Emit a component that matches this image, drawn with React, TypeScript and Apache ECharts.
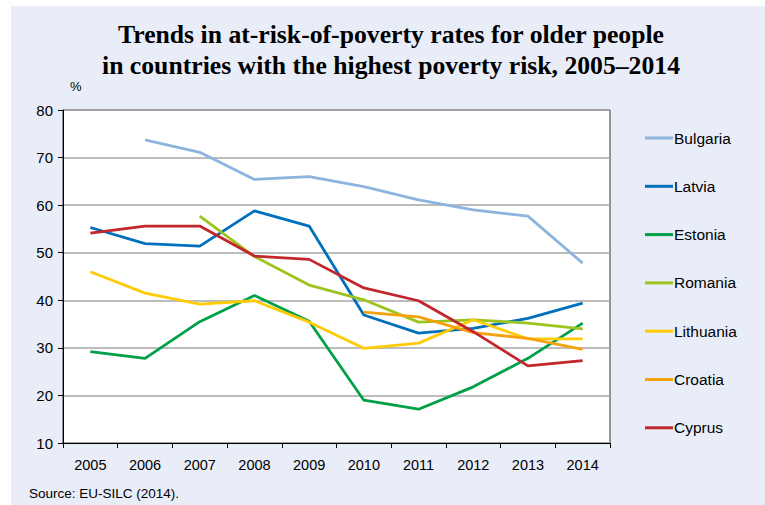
import React, { useEffect, useRef } from "react";
import * as echarts from "echarts";

const years = ["2005", "2006", "2007", "2008", "2009", "2010", "2011", "2012", "2013", "2014"];
const bulgaria = [null, 73.7, 71.1, 65.4, 66.0, 63.9, 61.1, 59.0, 57.7, 47.8];
const latvia = [55.3, 51.9, 51.4, 58.8, 55.6, 36.9, 33.1, 34.1, 36.2, 39.4];
const estonia = [29.2, 27.8, 35.5, 41.0, 35.6, 19.0, 17.1, 21.8, 27.8, 35.2];
const romania = [null, null, 57.7, 49.2, 43.2, 40.1, 35.4, 35.9, 35.2, 34.0];
const lithuania = [46.0, 41.5, 39.2, 39.9, 35.4, 29.9, 31.0, 35.9, 31.9, 31.9];
const croatia = [null, null, null, null, null, 37.5, 36.5, 33.2, 32.0, 29.7];
const cyprus = [54.1, 55.6, 55.6, 49.3, 48.6, 42.6, 39.9, 33.4, 26.2, 27.3];

const seriesDefs = [
  { name: "Bulgaria", data: bulgaria, color: "#8cb4df" },
  { name: "Latvia", data: latvia, color: "#0070bd" },
  { name: "Estonia", data: estonia, color: "#00a048" },
  { name: "Romania", data: romania, color: "#9cc41c" },
  { name: "Lithuania", data: lithuania, color: "#ffcb05" },
  { name: "Croatia", data: croatia, color: "#f6a20f" },
  { name: "Cyprus", data: cyprus, color: "#c1272d" },
];

export default function App() {
  const ref = useRef<HTMLDivElement>(null);
  useEffect(() => {
    document.body.style.margin = "0";
    const chart = echarts.init(ref.current!, null, { renderer: "svg" });
    chart.setOption({
      animation: false,
      backgroundColor: "#ffffff",
      graphic: [
        {
          type: "rect",
          z: -10,
          silent: true,
          shape: { x: 11, y: 6, width: 760, height: 505 },
          style: { fill: "#e9edf8" },
        },
        {
          type: "text",
          left: 70,
          top: 80,
          style: { text: "%", fontFamily: "Arial, Liberation Sans", fontSize: 13, fill: "#000" },
        },
        {
          type: "text",
          left: 29,
          top: 486,
          style: { text: "Source: EU-SILC (2014).", fontFamily: "Arial, Liberation Sans", fontSize: 13.5, fill: "#000" },
        },
      ],
      title: {
        text: "Trends in at-risk-of-poverty rates for older people\nin countries with the highest poverty risk, 2005–2014",
        left: 386,
        textAlign: "center",
        top: 14,
        textStyle: {
          fontFamily: "Liberation Serif, Times New Roman, serif",
          fontWeight: "bold",
          fontSize: 25.7,
          lineHeight: 31,
          color: "#000",
        },
      },
      legend: {
        orient: "vertical",
        left: 640,
        top: 125,
        itemGap: 32.3,
        itemWidth: 28,
        itemHeight: 3,
        icon: "rect",
        textStyle: { fontFamily: "Arial, Liberation Sans", fontSize: 15.5, color: "#000", padding: [0, 0, 0, -4] },
        data: seriesDefs.map((s) => s.name),
      },
      grid: {
        left: 63,
        top: 110,
        width: 547,
        height: 333,
        show: true,
        backgroundColor: "#ffffff",
        borderColor: "#333",
        borderWidth: 1,
      },
      xAxis: {
        type: "category",
        data: years,
        boundaryGap: true,
        axisLine: { lineStyle: { color: "#000", width: 1 } },
        axisTick: { show: true, length: 5, lineStyle: { color: "#000" } },
        axisLabel: { fontFamily: "Arial, Liberation Sans", fontSize: 14.5, color: "#000", margin: 14 },
      },
      yAxis: {
        type: "value",
        min: 10,
        max: 80,
        interval: 10,
        axisLine: { show: true, lineStyle: { color: "#000", width: 1 } },
        axisTick: { show: true, length: 5, lineStyle: { color: "#000" } },
        axisLabel: { fontFamily: "Arial, Liberation Sans", fontSize: 15, color: "#000", margin: 10 },
        splitLine: { lineStyle: { color: "#a6a6a6", width: 1.5 } },
      },
      series: seriesDefs.map((s) => ({
        name: s.name,
        type: "line",
        data: s.data,
        color: s.color,
        symbol: "none",
        lineStyle: { width: 2.8, color: s.color },
        connectNulls: false,
      })),
    });
    return () => chart.dispose();
  }, []);
  return <div ref={ref} style={{ width: 765, height: 505 }} />;
}
